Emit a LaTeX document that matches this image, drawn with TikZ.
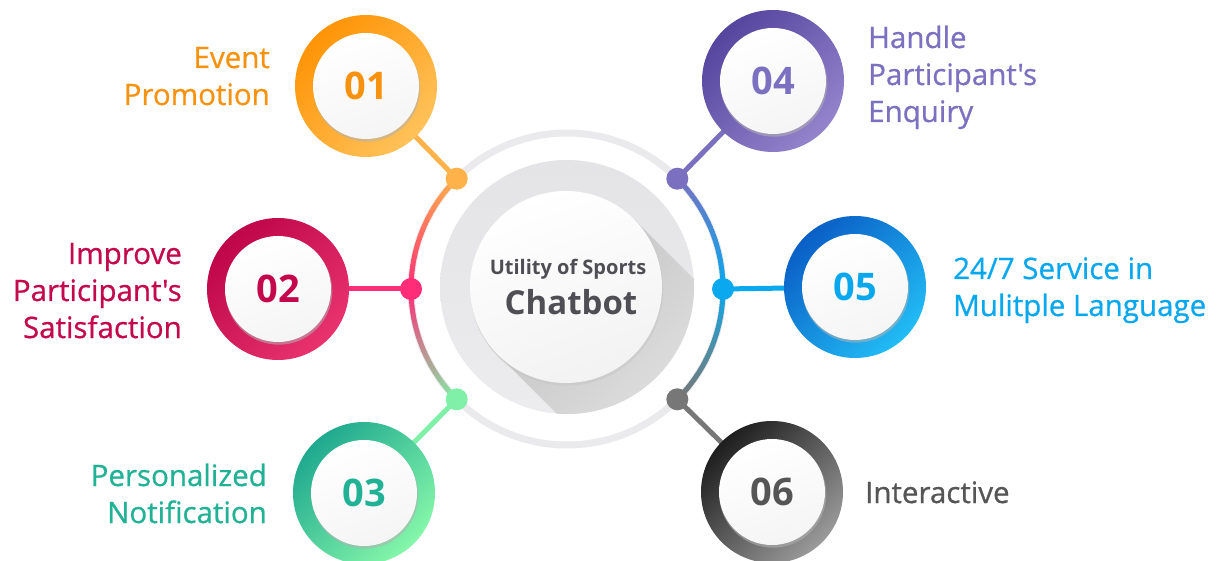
\documentclass[tikz,border=0pt]{standalone}
\usepackage{fontspec}
\setmainfont{Open Sans}[Ligatures=TeXOff]
\newfontfamily\labelfont{Open Sans}[Ligatures=TeXOff, FakeBold=0.7]
\usetikzlibrary{calc}

% palette
\definecolor{ringgray}{HTML}{EAEAEC}
\definecolor{discgray}{HTML}{E4E4E6}
\definecolor{discgrayl}{HTML}{ECECEE}
\definecolor{titlegray}{HTML}{4E4E54}
% item 1
\definecolor{oneD}{HTML}{FF9406}
\definecolor{oneL}{HTML}{FFC25A}
\definecolor{oneT}{HTML}{F7920F}
\definecolor{oneC}{HTML}{FFB24A}
% item 2
\definecolor{twoD}{HTML}{BE0648}
\definecolor{twoL}{HTML}{E8336F}
\definecolor{twoT}{HTML}{C4084C}
\definecolor{twoC}{HTML}{FF2D78}
% item 3
\definecolor{thrD}{HTML}{1FA98F}
\definecolor{thrL}{HTML}{86F7AA}
\definecolor{thrT}{HTML}{21B296}
\definecolor{thrC}{HTML}{80F0A8}
% item 4
\definecolor{fouD}{HTML}{55459E}
\definecolor{fouL}{HTML}{9484CC}
\definecolor{fouT}{HTML}{7C70C0}
\definecolor{fouC}{HTML}{7B6FBF}
% item 5
\definecolor{fivD}{HTML}{0A5FC6}
\definecolor{fivL}{HTML}{22BCF5}
\definecolor{fivT}{HTML}{09A8EE}
\definecolor{fivC}{HTML}{0AA8EE}
\definecolor{fivM}{HTML}{4C8EA6}
% item 6
\definecolor{sixD}{HTML}{1E1E1E}
\definecolor{sixL}{HTML}{9A9A9A}
\definecolor{sixT}{HTML}{555555}
\definecolor{sixC}{HTML}{777777}

\tikzset{
  anchorpt/.style={circle, minimum size=142pt, inner sep=0pt},
  ringdot/.style={circle, minimum size=22pt, inner sep=0pt},
  link/.style={line width=5pt},
  numtext/.style={font=\bfseries\fontsize{38}{42}\selectfont, inner sep=0pt},
  lbl/.style={font=\labelfont\fontsize{29.5}{37}\selectfont, inner sep=0pt},
  lblL/.style={lbl, align=right, anchor=base east},
  lblR/.style={lbl, align=left, anchor=base west},
}

% one numbered badge: centre node, dark colour, light colour
\newcommand\drawbadge[3]{%
  \shade[top color=#2, bottom color=#3, shading angle=45] (#1.center) circle (71);
  \fill[black!30, opacity=0.55] ($(#1.center)+(0.8,-2.2)$) circle (53.5);
  \shade[top color=white, bottom color=black!4, shading angle=20] (#1.center) circle (53);
}

\begin{document}
\begin{tikzpicture}[x=1pt,y=1pt]
\useasboundingbox (0,0) rectangle (1223,560);
\fill[white] (0,0) rectangle (1223,560);

\coordinate (C) at (567,271);

% badge anchors
\node[anchorpt] (n1) at (366,474) {};
\node[anchorpt] (n2) at (278,271) {};
\node[anchorpt] (n3) at (364,67) {};
\node[anchorpt] (n4) at (773,479) {};
\node[anchorpt] (n5) at (855,273) {};
\node[anchorpt] (n6) at (772,68) {};

% outer track
\draw[line width=7pt, ringgray] (C) circle (156);

% coloured arcs on the left and right of the track
\foreach \a in {135,...,224}{
  \ifnum\a<180
    \pgfmathtruncatemacro\p{(\a-135)*100/45}
    \colorlet{seg}{twoC!\p!oneC}
  \else
    \pgfmathtruncatemacro\p{(\a-180)*100/45}
    \colorlet{seg}{thrC!\p!twoC}
  \fi
  \draw[seg, line width=5pt] ($(C)+(\a:156)$) arc[start angle=\a, end angle=\a+1.3, radius=156];
}
\foreach \a in {-45,...,44}{
  \ifnum\a<0
    \pgfmathtruncatemacro\p{(\a+45)*100/45}
    \ifnum\p<50
      \pgfmathtruncatemacro\q{\p*2}
      \colorlet{seg}{fivM!\q!sixC}
    \else
      \pgfmathtruncatemacro\q{(\p-50)*2}
      \colorlet{seg}{fivC!\q!fivM}
    \fi
  \else
    \pgfmathtruncatemacro\p{\a*100/45}
    \colorlet{seg}{fouC!\p!fivC}
  \fi
  \draw[seg, line width=5pt] ($(C)+(\a:156)$) arc[start angle=\a, end angle=\a+1.3, radius=156];
}

% dots on the track
\node[ringdot, fill=oneC] (d1) at ($(C)+(135:156)$) {};
\node[ringdot, fill=twoC] (d2) at ($(C)+(180:156)$) {};
\node[ringdot, fill=thrC] (d3) at ($(C)+(225:156)$) {};
\node[ringdot, fill=fouC] (d4) at ($(C)+(45:156)$) {};
\node[ringdot, fill=fivC] (d5) at ($(C)+(0:156)$) {};
\node[ringdot, fill=sixC] (d6) at ($(C)+(-45:156)$) {};

% links from the track to the badges
\draw[link, oneC] (d1.center) -- (n1.center);
\draw[link, twoC] (d2.center) -- (n2.center);
\draw[link, thrC] (d3.center) -- (n3.center);
\draw[link, fouC] (d4.center) -- (n4.center);
\draw[link, fivC] (d5.center) -- (n5.center);
\draw[link, sixC] (d6.center) -- (n6.center);

% central disc with its long shadow
\coordinate (G) at (567,273);
\coordinate (W) at (566,273);
\shade[top color=discgray, bottom color=discgrayl] (G) circle (127);
\begin{scope}
  \clip (G) circle (127);
  \shade[top color=black!24, bottom color=discgrayl, shading angle=45]
    ($(W)+(45:96)$) -- ++(-45:200) -- ($(W)+(225:96)+(-45:200)$) -- ($(W)+(225:96)$) -- cycle;
\end{scope}
\fill[black!22, opacity=0.6] ($(W)+(0.8,-2.2)$) circle (96.5);
\shade[top color=white, bottom color=black!5, shading angle=20] (W) circle (96);

\node[font=\bfseries\fontsize{20}{24}\selectfont, text=titlegray, anchor=base, inner sep=0pt]
  (title) at (568,285) {Utility of Sports};
\node[font=\bfseries\fontsize{33}{38}\selectfont, text=titlegray, anchor=base, inner sep=0pt]
  (bot) at (571,245) {Chatbot};

% badges
\drawbadge{n1}{oneD}{oneL}
\drawbadge{n2}{twoD}{twoL}
\drawbadge{n3}{thrD}{thrL}
\drawbadge{n4}{fouD}{fouL}
\drawbadge{n5}{fivD}{fivL}
\drawbadge{n6}{sixD}{sixL}

\node[numtext, text=oneT] (t1) at (n1.center) {01};
\node[numtext, text=twoT] (t2) at (n2.center) {02};
\node[numtext, text=thrT] (t3) at (n3.center) {03};
\node[numtext, text=fouT] (t4) at (n4.center) {04};
\node[numtext, text=fivT] (t5) at (n5.center) {05};
\node[numtext, text=sixT] (t6) at (n6.center) {06};

% labels (base anchor sits on the last line)
\node[lblL, text=oneT] (l1) at (270,455) {Event\\Promotion};
\node[lblL, text=twoT] (l2) at (182,222) {Improve\\Participant's\\Satisfaction};
\node[lblL, text=thrT] (l3) at (267,37) {Personalized\\Notification};
\node[lblR, text=fouT] (l4) at (868,438) {Handle\\Participant's\\Enquiry};
\node[lblR, text=fivT] (l5) at (953,244) {24/7 Service in\\Mulitple Language};
\node[lblR, text=sixT] (l6) at (865,57) {Interactive};
\end{tikzpicture}
\end{document}
